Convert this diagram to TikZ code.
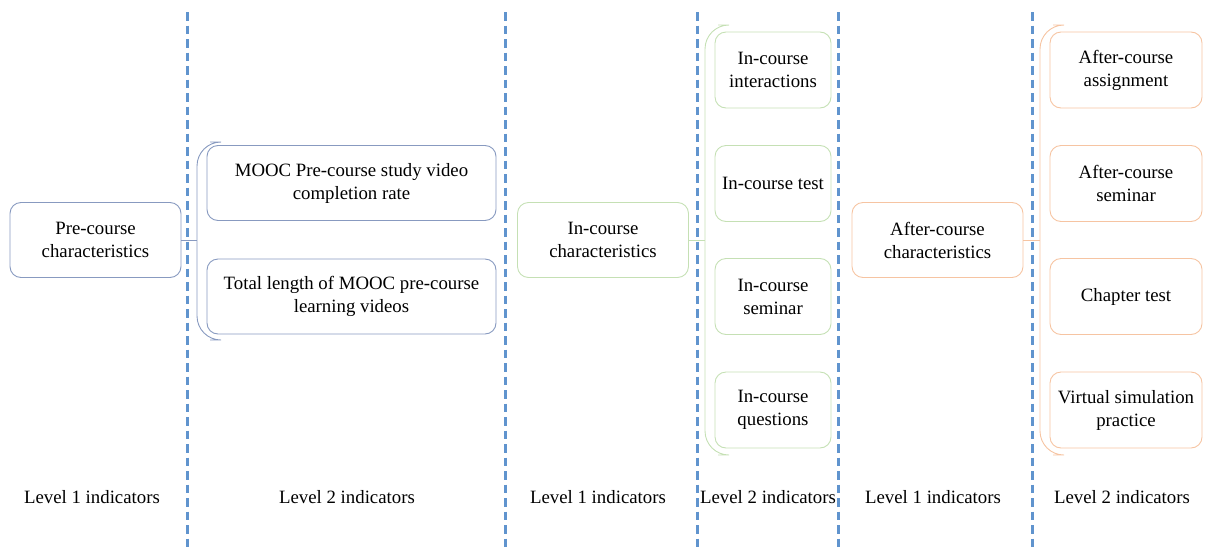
\documentclass[tikz,border=0pt]{standalone}
\usepackage{fontspec}
\setmainfont{Liberation Serif}
\usepackage{tikz}
\usetikzlibrary{positioning, calc}
\definecolor{precol}{RGB}{136,154,192}
\definecolor{incol}{RGB}{197,224,180}
\definecolor{aftercol}{RGB}{246,196,162}
\definecolor{sepcol}{RGB}{96,148,206}

\begin{document}
\begin{tikzpicture}[
  x=1pt, y=-1pt,
  font=\fontsize{18.8}{23}\selectfont,
  card/.style={draw, line width=0.9pt, rounded corners=11pt, align=center,
               inner sep=0pt},
  firstcard/.style={card, minimum width=171pt, minimum height=75pt},
  precard/.style={card, draw=precol, minimum width=289pt, minimum height=75pt},
  incard/.style={card, draw=incol, minimum width=116pt, minimum height=76pt},
  aftercard/.style={card, draw=aftercol, minimum width=152pt, minimum height=76pt},
  brace/.style={line width=0.9pt, rounded corners=24pt},
  sep/.style={sepcol, line width=3pt, dash pattern=on 8.5pt off 5pt},
  levellabel/.style={inner sep=0pt}
]
  \useasboundingbox (0,0) rectangle (1207,549);

  % column separators
  \draw[sep] (187,12) -- (187,549);
  \draw[sep] (505,12) -- (505,549);
  \draw[sep] (697,12) -- (697,549);
  \draw[sep] (838,12) -- (838,549);
  \draw[sep] (1032,12) -- (1032,549);

  % pre-course
  \node[firstcard, draw=precol] (pre) at (95.5,240)
    {Pre-course\\characteristics};
  \node[precard] (pre1) at (351.5,183) {MOOC Pre-course study video\\completion rate};
  \node[precard] (pre2) at (351.5,296.5) {Total length of MOOC pre-course\\learning videos};
  \coordinate (preA) at (210,142);
  \coordinate (preB) at (210,340);
  \draw[brace, precol] (preA) -- (197,142) -- (197,340) -- (preB);
  \draw[precol, line width=0.9pt] (pre.east) -- (pre.east -| 197,0);

  % in-course
  \node[firstcard, draw=incol] (in) at (603,240)
    {In-course\\characteristics};
  \node[incard] (in1) at (773,70) {In-course\\interactions};
  \node[incard] (in2) at (773,183.5) {In-course test};
  \node[incard] (in3) at (773,296.5) {In-course\\seminar};
  \node[incard] (in4) at (773,410) {In-course\\questions};
  \coordinate (inA) at (718,25);
  \coordinate (inB) at (718,455);
  \draw[brace, incol] (inA) -- (705,25) -- (705,455) -- (inB);
  \draw[incol, line width=0.9pt] (in.east) -- (in.east -| 705,0);

  % after-course
  \node[firstcard, draw=aftercol] (after) at (937.5,240)
    {After-course\\characteristics};
  \node[aftercard] (after1) at (1126,70) {After-course\\assignment};
  \node[aftercard] (after2) at (1126,183.5) {After-course\\seminar};
  \node[aftercard] (after3) at (1126,296.5) {Chapter test};
  \node[aftercard] (after4) at (1126,410) {Virtual simulation\\practice};
  \coordinate (afterA) at (1053,25);
  \coordinate (afterB) at (1053,455);
  \draw[brace, aftercol] (afterA) -- (1040,25) -- (1040,455) -- (afterB);
  \draw[aftercol, line width=0.9pt] (after.east) -- (after.east -| 1040,0);

  % level labels
  \node[levellabel] (lv1) at (92,497) {Level 1 indicators};
  \node[levellabel] (lv2) at (347,497) {Level 2 indicators};
  \node[levellabel] (lv3) at (598,497) {Level 1 indicators};
  \node[levellabel] (lv4) at (768,497) {Level 2 indicators};
  \node[levellabel] (lv5) at (933,497) {Level 1 indicators};
  \node[levellabel] (lv6) at (1122,497) {Level 2 indicators};
\end{tikzpicture}
\end{document}
